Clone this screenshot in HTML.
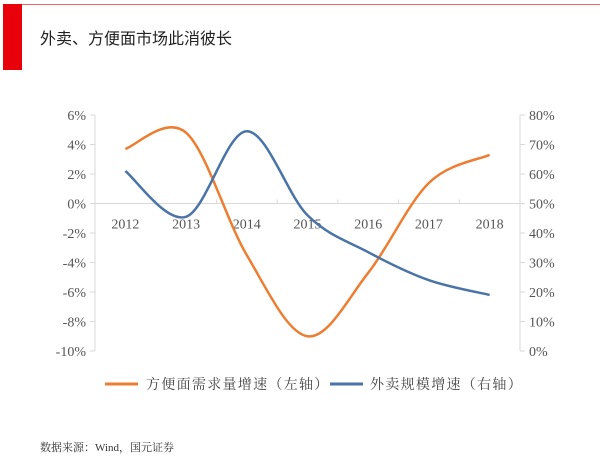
<!DOCTYPE html>
<html><head><meta charset="utf-8"><style>
body{margin:0;background:#fff;width:600px;height:460px;overflow:hidden;font-family:"Liberation Serif","Noto Serif CJK SC",serif}
</style></head><body>
<svg width="600" height="460" xmlns="http://www.w3.org/2000/svg">
<rect x="3" y="4" width="19" height="66" fill="#e8000b"/>
<line x1="22" y1="4.5" x2="600" y2="4.5" stroke="#e66" stroke-width="1"/>
<text x="40" y="44" font-size="16" fill="#222" font-family="Liberation Sans,Noto Sans CJK SC,sans-serif">外卖、方便面市场此消彼长</text>
<g id="axes"></g>
<g id="series"></g>
<g>
<line x1="105" y1="384" x2="138" y2="384" stroke="#ed7d31" stroke-width="3"/>
<text x="146" y="389" font-size="14" fill="#444" letter-spacing="1.3">方便面需求量增速（左轴）</text>
<line x1="330" y1="384" x2="363" y2="384" stroke="#4a74a8" stroke-width="3"/>
<text x="370" y="389" font-size="14" fill="#444" letter-spacing="1.3">外卖规模增速（右轴）</text>
</g>
<text x="40" y="451" font-size="11" fill="#333">数据来源：Wind，国元证券</text>
</svg>
<script>
const years=["2012","2013","2014","2015","2016","2017","2018"];
const noodle=[3.7,4.8,-3.5,-9.0,-4.7,1.4,3.3];
const delivery=[61,45.5,74.5,46,33.5,24,19];
const leftTicks=[6,4,2,0,-2,-4,-6,-8,-10];
const rightTicks=[80,70,60,50,40,30,20,10,0];
const NS="http://www.w3.org/2000/svg";
const X0=95,X1=520,Y0=115,Y1=351;
const bw=(X1-X0)/years.length;
const xs=i=>X0+bw*(i+0.5);
const yl=v=>Y0+(6-v)/16*(Y1-Y0);
const yr=v=>Y1-v/80*(Y1-Y0);
function mk(tag,attrs,parent){const e=document.createElementNS(NS,tag);for(const k in attrs)e.setAttribute(k,attrs[k]);parent.appendChild(e);return e;}
const ax=document.getElementById('axes');
let e;
e=mk('line',{x1:X0,y1:Y0,x2:X0,y2:Y1,stroke:'#d9d9d9'},ax);


e=mk('line',{x1:X1,y1:Y0,x2:X1,y2:Y1,stroke:'#d9d9d9'},ax);


e=mk('line',{x1:X0,y1:yl(0),x2:X1,y2:yl(0),stroke:'#d9d9d9'},ax);


leftTicks.forEach(v=>{const y=yl(v);mk('line',{x1:X0-5,y1:y,x2:X0,y2:y,stroke:'#d9d9d9'},ax);
e=mk('text',{x:X0-9,y:y+5,'text-anchor':'end','font-size':14,fill:'#555'},ax);e.textContent=v+'%';

});
rightTicks.forEach(v=>{const y=yr(v);mk('line',{x1:X1,y1:y,x2:X1+5,y2:y,stroke:'#d9d9d9'},ax);
e=mk('text',{x:X1+9,y:y+5,'font-size':14,fill:'#555'},ax);e.textContent=v+'%';

});
for(let i=0;i<=years.length;i++){const x=X0+bw*i;mk('line',{x1:x,y1:yl(0)-4,x2:x,y2:yl(0),stroke:'#d9d9d9'},ax);}
years.forEach((t,i)=>{e=mk('text',{x:xs(i),y:yl(0)+25,'text-anchor':'middle','font-size':14,fill:'#555'},ax);e.textContent=t;

});
function smooth(p){let d='M'+p[0][0]+','+p[0][1];for(let i=0;i<p.length-1;i++){const a=p[i-1]||p[i],b=p[i],c=p[i+1],n=p[i+2]||c;const t=1/6;
d+=` C${b[0]+(c[0]-a[0])*t},${b[1]+(c[1]-a[1])*t} ${c[0]-(n[0]-b[0])*t},${c[1]-(n[1]-b[1])*t} ${c[0]},${c[1]}`;}return d;}
const sg=document.getElementById('series');
e=mk('path',{d:smooth(noodle.map((v,i)=>[xs(i),yl(v)])),fill:'none',stroke:'#ed7d31','stroke-width':2.5},sg);


e=mk('path',{d:smooth(delivery.map((v,i)=>[xs(i),yr(v)])),fill:'none',stroke:'#4a74a8','stroke-width':2.5},sg);


</script>
</body></html>
